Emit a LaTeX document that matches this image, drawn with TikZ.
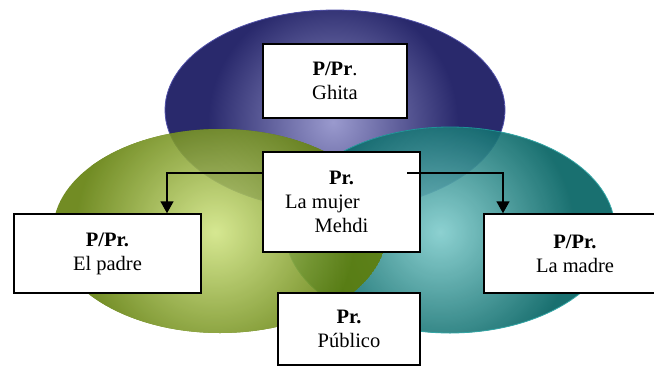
\documentclass[tikz,border=0pt]{standalone}
\usepackage{fontspec}
\setmainfont{Liberation Serif}
\usetikzlibrary{arrows.meta}
\definecolor{blueout}{HTML}{29296C}
\definecolor{bluein}{HTML}{9A9ACE}
\definecolor{blueedge}{HTML}{5050A8}
\definecolor{greenout}{HTML}{5E7C06}
\definecolor{greenin}{HTML}{D0E482}
\definecolor{tealout}{HTML}{006060}
\definecolor{tealin}{HTML}{80CCCC}
\definecolor{tealedge}{HTML}{1E9C9C}
\begin{document}
\begin{tikzpicture}[x=1pt,y=-1pt,
  box/.style={draw=black, line width=1.5pt, fill=white, align=center, inner sep=0pt,
    font=\fontsize{20.5}{24}\selectfont},
  conn/.style={line width=1.6pt, line join=miter, -{Triangle[width=13pt,length=12pt]}}]
\useasboundingbox (0,0) rectangle (654,365);
% blue ellipse
\begin{scope}
  \clip (335,110) ellipse [x radius=170, y radius=100];
  \fill[blueout] (335,110) ellipse [x radius=170, y radius=100];
  \shade[inner color=bluein, outer color=blueout] (333,122) circle [radius=125];
\end{scope}
\draw[blueedge, line width=0.8pt] (335,110) ellipse [x radius=170, y radius=100];
% teal ellipse
\begin{scope}[transparency group, opacity=0.9]
  \begin{scope}
    \clip (450,230) ellipse [x radius=165, y radius=103];
    \fill[tealout] (450,230) ellipse [x radius=165, y radius=103];
    \shade[inner color=tealin, outer color=tealout] (440,232) circle [radius=135];
  \end{scope}
  \draw[tealedge, line width=0.8pt] (450,230) ellipse [x radius=165, y radius=103];
\end{scope}
% green ellipse
\begin{scope}[transparency group, opacity=0.88]
  \clip (220,231) ellipse [x radius=167, y radius=102];
  \fill[greenout] (220,231) ellipse [x radius=167, y radius=102];
  \shade[inner color=greenin, outer color=greenout] (215,232) circle [radius=140];
\end{scope}
% boxes
\node[box, minimum width=144, minimum height=74] (ghita) at (335,81) {\textbf{P/Pr}.\\Ghita};
\node[box, minimum width=157, minimum height=100] (mujer) at (341.5,202) {\textbf{Pr.}\\La mujer\hspace{38pt}\mbox{}\\Mehdi};
\node[box, minimum width=187, minimum height=79] (padre) at (107.5,253.5) {\textbf{P/Pr.}\\El padre};
\node[box, minimum width=182, minimum height=79] (madre) at (575,253.5) {\textbf{P/Pr.}\\La madre};
\node[box, minimum width=142, minimum height=72] (publico) at (349,329) {\textbf{Pr.}\\Público};
% connectors
\coordinate (lturn) at (167,173);
\coordinate (rstart) at (407,173);
\coordinate (rturn) at (503,173);
\draw[conn] (mujer.west |- lturn) -- (lturn) -- (padre.north -| lturn);
\draw[conn] (rstart) -- (rturn) -- (madre.north -| rturn);
\end{tikzpicture}
\end{document}
